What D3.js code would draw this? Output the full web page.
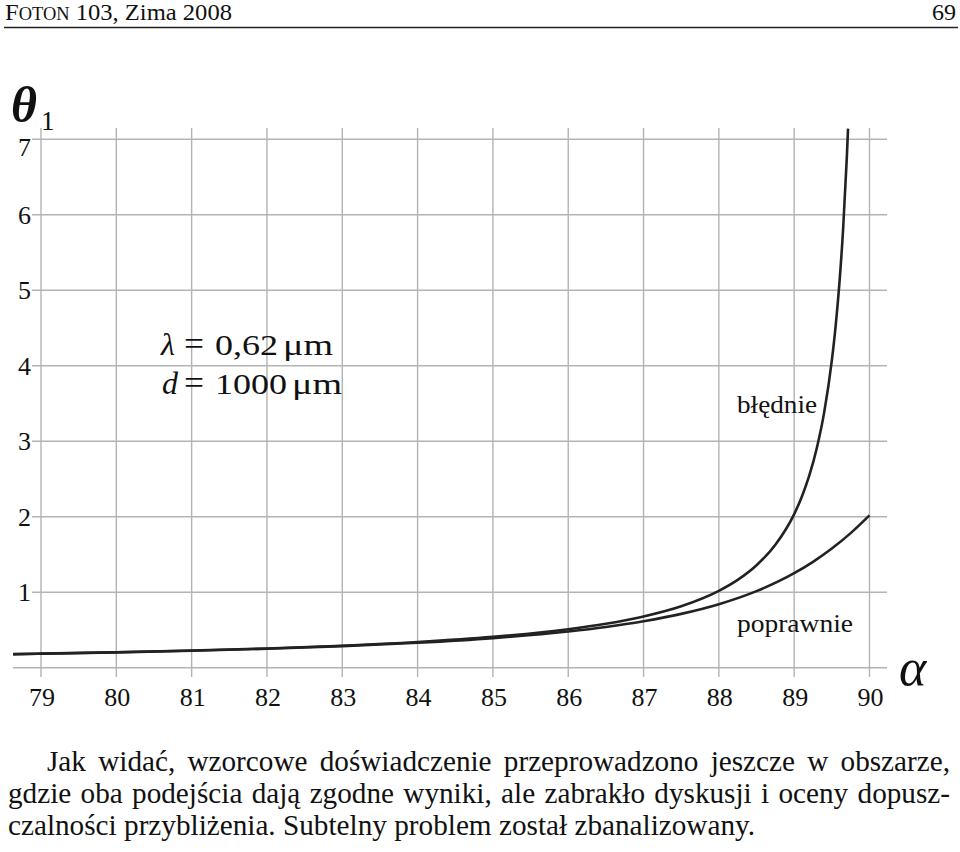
<!DOCTYPE html>
<html><head><meta charset="utf-8">
<script src="https://cdn.jsdelivr.net/npm/d3@7"></script>
<style>
html,body{margin:0;padding:0;background:#fff;}
svg text{font-family:"Liberation Serif","Times New Roman","DejaVu Serif",serif;}
</style></head>
<body>
<svg id="chart" width="960" height="852" font-family="Liberation Serif, Times New Roman, serif"></svg>
<script>
// ---- data ----
const xTicks = [79, 80, 81, 82, 83, 84, 85, 86, 87, 88, 89, 90];
const yTicks = [0, 1, 2, 3, 4, 5, 6, 7];
const yTickLabels = ["", "1", "2", "3", "4", "5", "6", "7"];

// "błędnie" curve (alpha in degrees, theta1 in degrees)
const alphaWrong = [78.63, 79, 80, 81, 82, 83, 84, 85, 86, 86.5, 87, 87.5, 88, 88.25, 88.5, 88.75, 89, 89.1, 89.2, 89.3, 89.4, 89.5, 89.55, 89.6, 89.65, 89.7, 89.715];
const thetaWrong = [0.180, 0.186, 0.205, 0.227, 0.255, 0.291, 0.340, 0.408, 0.509, 0.582, 0.679, 0.814, 1.018, 1.163, 1.357, 1.628, 2.035, 2.262, 2.544, 2.908, 3.392, 4.071, 4.523, 5.088, 5.815, 6.784, 7.141];

// "poprawnie" curve
const alphaRight = [78.63, 79, 80, 81, 82, 83, 84, 85, 86, 86.5, 87, 87.5, 88, 88.5, 89, 89.25, 89.5, 89.75, 90];
const thetaRight = [0.179, 0.185, 0.203, 0.224, 0.251, 0.286, 0.331, 0.392, 0.480, 0.540, 0.616, 0.713, 0.841, 1.014, 1.252, 1.403, 1.579, 1.783, 2.018];

const headerLeft = "Foton 103, Zima 2008";
const headerRight = "69";
const paragraph = [
  "Jak widać, wzorcowe doświadczenie przeprowadzono jeszcze w obszarze,",
  "gdzie oba podejścia dają zgodne wyniki, ale zabrakło dyskusji i oceny dopusz-",
  "czalności przybliżenia. Subtelny problem został zbanalizowany."
];

// ---- drawing ----
const SERIF = "Liberation Serif, Times New Roman, serif";
const svg = d3.select("#chart");
const x = d3.scaleLinear().domain([79, 90]).range([41, 869.5]);
const y = d3.scaleLinear().domain([0, 7]).range([667.7, 139.3]);

function txt(parent) { return parent.append("text").attr("font-family", SERIF).attr("fill", "#111"); }

// header
const hl = txt(svg).attr("x", 5).attr("y", 20).attr("font-size", 24)
  .attr("textLength", 227).attr("lengthAdjust", "spacingAndGlyphs");
hl.append("tspan").text("F");
hl.append("tspan").attr("font-size", 18).text("OTON");
hl.append("tspan").text(headerLeft.slice(5));
txt(svg).attr("x", 956).attr("y", 20).attr("font-size", 24)
  .attr("text-anchor", "end").text(headerRight);
svg.append("line").attr("x1", 4).attr("x2", 958).attr("y1", 27.5).attr("y2", 27.5)
  .attr("stroke", "#222").attr("stroke-width", 1.4);

// grid
const grid = svg.append("g").attr("stroke", "#b3b3b3").attr("stroke-width", 1.4);
grid.selectAll("line.v").data(xTicks).join("line").attr("class", "v")
  .attr("x1", d => x(d)).attr("x2", d => x(d)).attr("y1", 128).attr("y2", 677);
grid.selectAll("line.h").data(yTicks).join("line").attr("class", "h")
  .attr("x1", d => d === 0 ? 13 : 32).attr("x2", 887).attr("y1", d => y(d)).attr("y2", d => y(d));

// x tick labels
svg.append("g").selectAll("text").data(xTicks).join("text")
  .attr("font-family", SERIF).attr("fill", "#111")
  .attr("x", d => x(d) + 1).attr("y", 706).attr("text-anchor", "middle")
  .attr("font-size", 26).text(d => d);

// y tick labels
svg.append("g").selectAll("text").data(yTicks).join("text")
  .attr("font-family", SERIF).attr("fill", "#111")
  .attr("x", 31).attr("y", d => y(d) + (d === 7 ? 17 : 9)).attr("text-anchor", "end")
  .attr("font-size", 26).text((d, i) => yTickLabels[i]);

// axis titles
txt(svg).attr("x", 11).attr("y", 122).attr("font-size", 50)
  .attr("font-style", "italic").attr("font-weight", "bold").text("θ");
txt(svg).attr("x", 41).attr("y", 130).attr("font-size", 27).text("1");
txt(svg).attr("x", 899).attr("y", 685).attr("font-size", 52)
  .attr("font-style", "italic").text("α");

// curves
const line = d3.line().x(d => x(d[0])).y(d => y(d[1])).curve(d3.curveMonotoneX);
svg.append("path").datum(alphaRight.map((a, i) => [a, thetaRight[i]]))
  .attr("d", line).attr("fill", "none").attr("stroke", "#222").attr("stroke-width", 2.6);
svg.append("path").datum(alphaWrong.map((a, i) => [a, thetaWrong[i]]))
  .attr("d", line).attr("fill", "none").attr("stroke", "#222").attr("stroke-width", 2.6);

// curve labels
txt(svg).attr("x", 737).attr("y", 413).attr("font-size", 26)
  .attr("textLength", 80).attr("lengthAdjust", "spacingAndGlyphs").text("błędnie");
txt(svg).attr("x", 737).attr("y", 632).attr("font-size", 26)
  .attr("textLength", 116).attr("lengthAdjust", "spacingAndGlyphs").text("poprawnie");

// parameters (math-style spacing)
function mathLine(yb, parts) {
  parts.forEach(p => {
    const t = txt(svg).attr("x", p.x).attr("y", yb).attr("font-size", p.fs || 30).text(p.s);
    if (p.it) t.attr("font-style", "italic");
    if (p.w) t.attr("textLength", p.w).attr("lengthAdjust", "spacingAndGlyphs");
  });
}
mathLine(355, [
  {s: "λ", x: 161, it: true, fs: 32},
  {s: "=", x: 184, fs: 34, w: 20},
  {s: "0,62", x: 215, w: 63},
  {s: "μm", x: 283, w: 50}
]);
mathLine(394, [
  {s: "d", x: 162, it: true, fs: 32},
  {s: "=", x: 184, fs: 34, w: 20},
  {s: "1000", x: 215, w: 72},
  {s: "μm", x: 292, w: 50}
]);

// paragraph (justified)
const lineSpecs = [
  {x0: 47, x1: 950, y: 771},
  {x0: 8, x1: 950, y: 803},
  {x0: 8, x1: 755, y: 835}
];
const probe = txt(svg).attr("font-size", 26).text(paragraph[2]);
const fs = 26 * (lineSpecs[2].x1 - lineSpecs[2].x0) / probe.node().getComputedTextLength();
probe.remove();
paragraph.forEach((t, li) => {
  const spec = lineSpecs[li];
  const words = t.split(" ");
  const g = svg.append("g");
  const nodes = words.map(w => txt(g).attr("font-size", fs).attr("y", spec.y).text(w));
  const widths = nodes.map(n => n.node().getComputedTextLength());
  const gap = (spec.x1 - spec.x0 - d3.sum(widths)) / (words.length - 1);
  let cx = spec.x0;
  nodes.forEach((n, i) => { n.attr("x", cx); cx += widths[i] + gap; });
});
</script>
</body></html>
